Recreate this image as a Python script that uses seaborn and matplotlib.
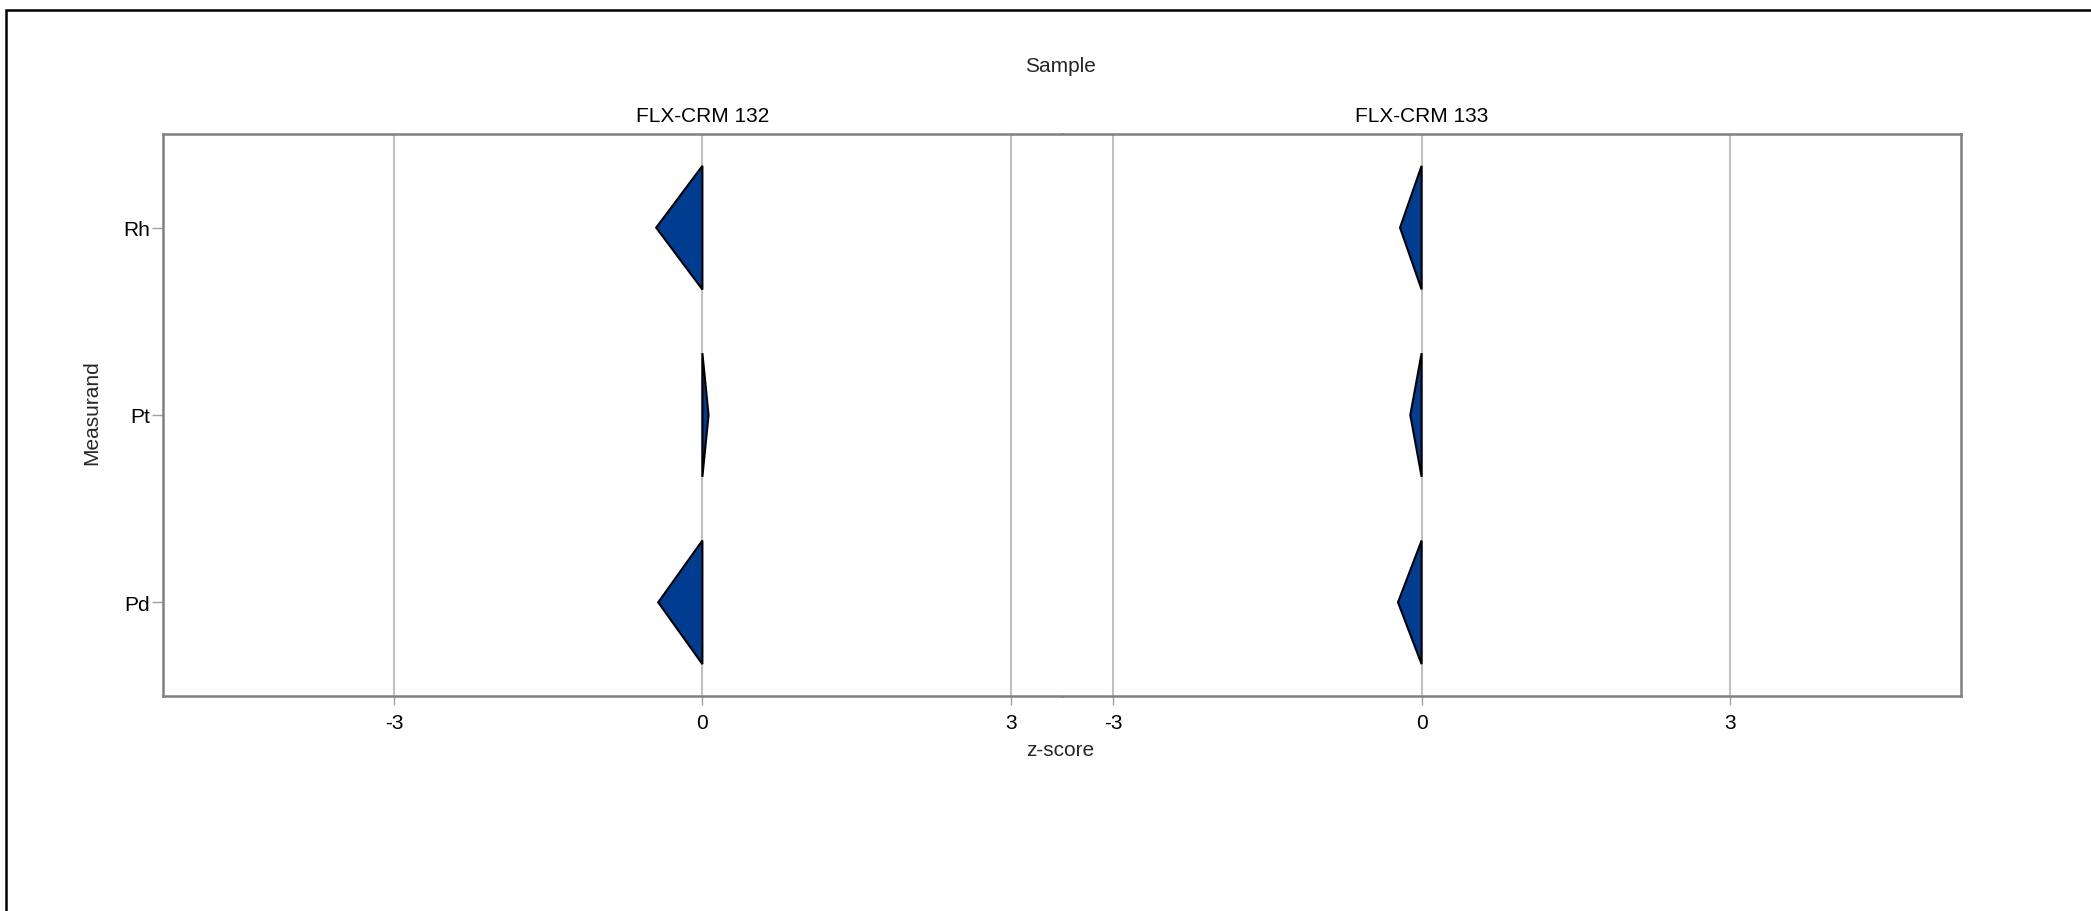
import numpy as np
import pandas as pd
import matplotlib
matplotlib.use("Agg")
import matplotlib.pyplot as plt
import matplotlib.transforms as mtransforms
import seaborn as sns
from matplotlib.patches import Rectangle

# data
samples = ["FLX-CRM 132", "FLX-CRM 133"]
measurands = ["Rh", "Pt", "Pd"]
z_132 = [-0.45, 0.06, -0.43]
z_133 = [-0.21, -0.11, -0.23]
x_ticks = [-3, 0, 3]
x_limits = [(-5.25, 3.5), (-3.5, 5.25)]

df = pd.DataFrame({
    "Sample": np.repeat(samples, len(measurands)),
    "Measurand": measurands * len(samples),
    "z": z_132 + z_133,
})
df["pos"] = df["Measurand"].map({m: i for i, m in enumerate(measurands)})

sns.set_theme(style="white")
plt.rcParams["font.family"] = ["Liberation Sans", "DejaVu Sans"]

W, H = 2091, 912
BLUE = "#003C8F"
FS = 15


def pointer(data, color, **kws):
    ax = plt.gca()
    for y, z in zip(data["pos"], data["z"]):
        ax.fill([0, z, 0], [y - 0.33, y, y + 0.33], facecolor=color,
                edgecolor="black", linewidth=1.5, zorder=3)


g = sns.FacetGrid(df, col="Sample", col_order=samples, sharex=False, sharey=True,
                  height=5, aspect=1.2, despine=False)
g.map_dataframe(pointer, color=BLUE)
g.set_titles("")
g.set_axis_labels("", "")

fig = g.figure
fig.set_size_inches(W / 100, H / 100)
fig.set_dpi(100)
fig.subplots_adjust(left=163 / W, right=1961 / W, top=1 - 135 / H,
                    bottom=1 - 697 / H, wspace=0)

for i, (ax, name) in enumerate(zip(g.axes.flat, samples)):
    ax.set_xlim(*x_limits[i])
    ax.set_ylim(2.5, -0.5)
    ax.set_xticks(x_ticks)
    ax.set_xticklabels([str(t) for t in x_ticks], fontsize=FS)
    ax.set_yticks(range(len(measurands)))
    ax.set_yticklabels(measurands, fontsize=FS)
    ax.xaxis.grid(True, color="#c0c0c0", linewidth=1.5)
    ax.yaxis.grid(False)
    ax.set_axisbelow(True)
    ax.tick_params(axis="x", bottom=True, length=6.5, width=1, color="#a0a0a0",
                   pad=6, labelcolor="black")
    if i == 0:
        ax.tick_params(axis="y", left=True, length=8, width=1, color="#a0a0a0",
                       pad=1.5, labelcolor="black")
    else:
        ax.tick_params(axis="y", left=False, labelleft=False)
    for side, sp in ax.spines.items():
        sp.set_visible(True)
        sp.set_color("#808080")
        sp.set_linewidth(1.8)
    if i == 0:
        ax.spines["right"].set_visible(False)
    else:
        ax.spines["left"].set_visible(False)
    trans = mtransforms.blended_transform_factory(ax.transData, ax.transAxes)
    ax.text(0, 1 + 18 / 562, name, transform=trans, ha="center", va="center",
            fontsize=FS, color="black")

fig.text(1060 / W, 1 - 67 / H, "Sample", ha="center", va="center", fontsize=FS)
fig.text(92 / W, 1 - 413 / H, "Measurand", ha="center", va="center",
         rotation=90, fontsize=FS)
fig.text(1060 / W, 1 - 751 / H, "z-score", ha="center", va="center", fontsize=FS)

# outer frame (cropped at right and bottom)
fig.patches.append(Rectangle((6 / W, -0.2), 1.2, 1.2 - 11 / H, transform=fig.transFigure,
                             fill=False, edgecolor="black", linewidth=1.8))

fig.savefig("out.png", dpi=100)
